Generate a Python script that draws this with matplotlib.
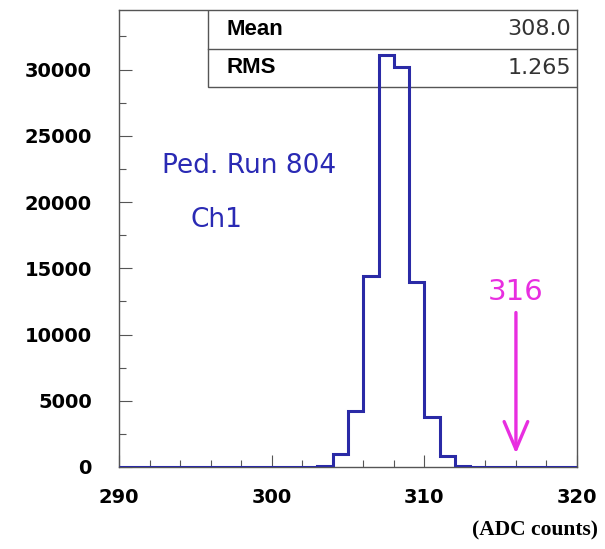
import matplotlib
matplotlib.use('Agg')
import matplotlib.pyplot as plt
from matplotlib.ticker import MultipleLocator
from matplotlib.font_manager import FontProperties

# histogram contents, 1 ADC count per bin
bin_edges = list(range(290, 321))
counts = [0, 0, 0, 0, 0, 0, 0, 0, 0, 0,
          0, 0, 0, 50, 950, 4200, 14400, 31100, 30200, 14000,
          3800, 800, 100, 0, 0, 0, 0, 0, 0, 0]
stat_names = ['Mean', 'RMS']
stat_values = ['308.0', '1.265']
cut_value = 316

fig = plt.figure(figsize=(6.05, 5.49), dpi=100)
ax = fig.add_axes([119/605, 1-467/549, 458/605, 457/549])

hist_col = '#2a2aa6'
ax.stairs(counts, bin_edges, color=hist_col, lw=2.2, zorder=6)
ax.set_xlim(290, 320)
ax.set_ylim(0, 34500)

ax.xaxis.set_major_locator(MultipleLocator(10))
ax.xaxis.set_minor_locator(MultipleLocator(2))
ax.yaxis.set_major_locator(MultipleLocator(5000))
ax.yaxis.set_minor_locator(MultipleLocator(2500))
ax.tick_params(which='both', direction='in', top=False, right=False,
               color='#555555', width=0.8)
ax.tick_params(which='major', length=9)
ax.tick_params(which='minor', length=5)
ax.tick_params(axis='y', pad=19.5)
ax.tick_params(axis='x', pad=15)
for sp in ax.spines.values():
    sp.set_color('#555555')
    sp.set_linewidth(1.0)

tick_fp = FontProperties(family='DejaVu Sans', weight='bold', size=14)
for lab in ax.get_xticklabels() + ax.get_yticklabels():
    lab.set_fontproperties(tick_fp)

# stats box
bx0 = (208 - 119) / 458
bh = (87 - 10) / 457
ax.add_patch(plt.Rectangle((bx0, 1 - bh), 1 - bx0, bh, transform=ax.transAxes,
                           fill=True, facecolor='white', edgecolor='#555555', lw=1.0, zorder=3))
ax.plot([bx0, 1], [1 - bh / 2, 1 - bh / 2], transform=ax.transAxes,
        color='#555555', lw=1.0, zorder=4)
for i, (n, v) in enumerate(zip(stat_names, stat_values)):
    yy = 1 - bh / 4 - i * bh / 2
    ax.text(bx0 + 19 / 458, yy, n, transform=ax.transAxes, va='center', ha='left',
            fontsize=16, weight='bold', family='Liberation Sans', zorder=5)
    ax.text(1 - 6 / 458, yy, v, transform=ax.transAxes, va='center', ha='right',
            fontsize=16, family='DejaVu Sans', color='#333333', zorder=5)

txt_col = '#2a2ab4'
ax.text(298.5, 22750, 'Ped. Run 804', color=txt_col, fontsize=19,
        family='DejaVu Sans', ha='center', va='center')
ax.text(296.35, 18670, 'Ch1', color=txt_col, fontsize=19,
        family='DejaVu Sans', ha='center', va='center')

mag = '#e82ee0'
ax.text(cut_value, 13230, str(cut_value), color=mag, fontsize=21,
        family='DejaVu Sans', ha='center', va='center')
ax.annotate('', xy=(cut_value, 800), xytext=(cut_value, 11870),
            arrowprops=dict(arrowstyle='->,head_length=2.0,head_width=0.85',
                            color=mag, lw=2.4), zorder=7)

fig.text(598/605, 1 - 530/549, '(ADC counts)', ha='right', va='center',
         fontsize=15.5, weight='bold', family='Liberation Serif')

fig.savefig('out.png', dpi=100)
